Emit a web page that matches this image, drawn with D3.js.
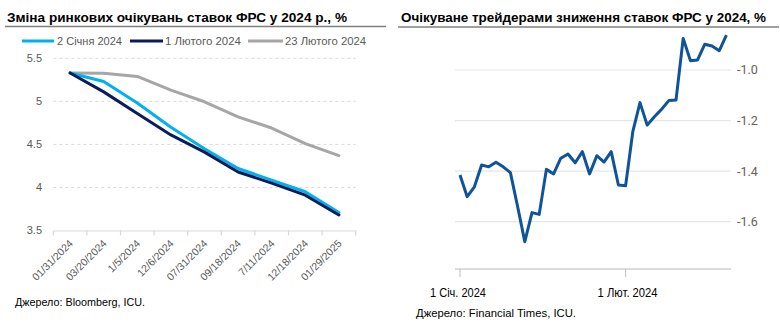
<!DOCTYPE html>
<html>
<head>
<meta charset="utf-8">
<script src="https://cdn.jsdelivr.net/npm/d3@7"></script>
<style>
html,body{margin:0;padding:0;background:#fff;}
svg{display:block;}
text{font-family:"Liberation Sans","Noto Sans",Arial,sans-serif;}
</style>
</head>
<body>
<svg id="chart" width="780" height="325"></svg>
<script>
// ---------- Left chart data ----------
const leftCategories = ["01/31/2024","03/20/2024","1/5/2024","12/6/2024","07/31/2024","09/18/2024","7/11/2024","12/18/2024","01/29/2025"];
const seriesNames = ["2 Січня 2024","1 Лютого 2024","23 Лютого 2024"];
const jan2Values  = [5.33, 5.23, 4.98, 4.70, 4.45, 4.22, 4.085, 3.95, 3.71];
const feb1Values  = [5.33, 5.11, 4.86, 4.61, 4.41, 4.18, 4.05, 3.91, 3.68];
const feb23Values = [5.33, 5.325, 5.29, 5.13, 4.995, 4.82, 4.69, 4.51, 4.37];
const leftYTicks = [3.5, 4, 4.5, 5, 5.5];

// ---------- Right chart data ----------
const rightDates = [
 "2024-01-01","2024-01-02","2024-01-03","2024-01-04","2024-01-05",
 "2024-01-08","2024-01-09","2024-01-10","2024-01-11","2024-01-12",
 "2024-01-15","2024-01-16","2024-01-17","2024-01-18","2024-01-19",
 "2024-01-22","2024-01-23","2024-01-24","2024-01-25","2024-01-26",
 "2024-01-29","2024-01-30","2024-01-31",
 "2024-02-01","2024-02-02",
 "2024-02-05","2024-02-06","2024-02-07","2024-02-08","2024-02-09",
 "2024-02-12","2024-02-13","2024-02-14","2024-02-15","2024-02-16",
 "2024-02-19","2024-02-20","2024-02-21"];
const rightValues = [
 -1.415,-1.501,-1.462,-1.376,-1.383,
 -1.365,-1.383,-1.406,-1.54,-1.679,
 -1.564,-1.571,-1.393,-1.411,-1.349,
 -1.332,-1.367,-1.323,-1.411,-1.339,
 -1.364,-1.323,-1.455,
 -1.458,-1.244,
 -1.129,-1.218,-1.185,-1.155,-1.121,
 -1.119,-0.875,-0.963,-0.960,-0.898,
 -0.905,-0.924,-0.862];
const rightYTicks = [-1.6, -1.4, -1.2, -1.0];
const rightXTickDates = ["2024-01-01","2024-02-01"];
const rightXTickLabels = ["1 Січ. 2024","1 Лют. 2024"];

const svg = d3.select("#chart");

// ================= LEFT CHART =================
const colors = ["#00b0f0","#0c1c5a","#a6a6a6"];
svg.append("text").attr("x",7).attr("y",21.5)
  .attr("font-size",13.5).attr("font-weight","bold").attr("fill","#000")
  .attr("textLength",340).attr("lengthAdjust","spacingAndGlyphs")
  .text("Зміна ринкових очікувань ставок ФРС у 2024 р., %");
svg.append("line").attr("x1",5).attr("x2",386).attr("y1",26.5).attr("y2",26.5)
  .attr("stroke","#7f7f7f").attr("stroke-width",1.5);

const lx = d3.scaleBand().domain(leftCategories).range([53.3,355.7]).padding(0);
const ly = d3.scaleLinear().domain([3.5,5.5]).range([230.5,58.3]);

// gridlines
const lg = svg.append("g");
lg.selectAll("line.grid").data(leftYTicks.filter(d=>d>3.5)).join("line")
  .attr("x1",53.3).attr("x2",355.7)
  .attr("y1",d=>ly(d)).attr("y2",d=>ly(d))
  .attr("stroke","#d9d9d9").attr("stroke-width",1).attr("stroke-dasharray","3,3");
// y labels
lg.selectAll("text.yl").data(leftYTicks).join("text")
  .attr("x",42).attr("y",d=>ly(d)).attr("dy","0.35em")
  .attr("text-anchor","end").attr("font-size",11).attr("fill","#595959")
  .text(d=>d3.format("")(d));
// x axis
const xAxisL = d3.axisBottom(lx).tickSize(0).tickFormat("");
const gxl = svg.append("g").attr("transform",`translate(0,${ly(3.5)})`).call(xAxisL);
gxl.select(".domain").attr("stroke","#d9d9d9").attr("stroke-width",1.2);
// boundary ticks
const boundaries = leftCategories.map(c=>lx(c)).concat([lx(leftCategories[leftCategories.length-1])+lx.bandwidth()]);
svg.append("g").selectAll("line").data(boundaries).join("line")
  .attr("x1",d=>d).attr("x2",d=>d).attr("y1",ly(3.5)).attr("y2",ly(3.5)+5)
  .attr("stroke","#d9d9d9").attr("stroke-width",1.2);
// x labels rotated
svg.append("g").selectAll("text").data(leftCategories).join("text")
  .attr("transform",d=>`translate(${lx(d)+lx.bandwidth()/2+1},${ly(3.5)+11}) rotate(-45)`)
  .attr("text-anchor","end").attr("dy","0.35em")
  .attr("font-size",10.5).attr("fill","#595959")
  .text(d=>d);

// lines
const lineL = d3.line().x((d,i)=>lx(leftCategories[i])+lx.bandwidth()/2).y(d=>ly(d));
const allSeries = [jan2Values, feb1Values, feb23Values];
[2,0,1].forEach(k=>{
  svg.append("path").datum(allSeries[k]).attr("d",lineL)
    .attr("fill","none").attr("stroke",colors[k]).attr("stroke-width",3)
    .attr("stroke-linejoin","round").attr("stroke-linecap","round");
});

// legend
const legendPos = [{x1:22,x2:54,tx:57,w:65},{x1:130,x2:163,tx:165,w:76},{x1:248,x2:283,tx:285,w:81}];
seriesNames.forEach((n,i)=>{
  const p = legendPos[i];
  svg.append("line").attr("x1",p.x1).attr("x2",p.x2).attr("y1",41).attr("y2",41)
    .attr("stroke",colors[i]).attr("stroke-width",3);
  svg.append("text").attr("x",p.tx).attr("y",41).attr("dy","0.35em")
    .attr("font-size",11.5).attr("fill","#595959")
    .attr("textLength",p.w).attr("lengthAdjust","spacingAndGlyphs").text(n);
});

svg.append("text").attr("x",15).attr("y",302).attr("dy","0.35em")
  .attr("font-size",11.5).attr("fill","#000")
  .attr("textLength",130).attr("lengthAdjust","spacingAndGlyphs")
  .text("Джерело: Bloomberg, ICU.");

// ================= RIGHT CHART =================
svg.append("text").attr("x",401).attr("y",21.5)
  .attr("font-size",13.5).attr("font-weight","bold").attr("fill","#000")
  .attr("textLength",365).attr("lengthAdjust","spacingAndGlyphs")
  .text("Очікуване трейдерами зниження ставок ФРС у 2024, %");
svg.append("line").attr("x1",398).attr("x2",779).attr("y1",27).attr("y2",27)
  .attr("stroke","#7f7f7f").attr("stroke-width",1.5);

const rx = d3.scalePoint().domain(rightDates).range([460,726.4]);
const ry = d3.scaleLinear().domain([-1.6,-1.0]).range([221.7,70]);
const axisY = ry(-1.787);

svg.append("g").selectAll("line").data(rightYTicks).join("line")
  .attr("x1",455).attr("x2",731).attr("y1",d=>ry(d)).attr("y2",d=>ry(d))
  .attr("stroke","#e6e6e6").attr("stroke-width",1.2);
svg.append("g").selectAll("text").data(rightYTicks).join("text")
  .attr("x",737).attr("y",d=>ry(d)).attr("dy","0.35em")
  .attr("font-size",12.5).attr("fill","#66605c")
  .style("font-family","Roboto, 'Noto Sans', sans-serif")
  .text(d=>d3.format(".1f")(d).replace("−","-"));

svg.append("line").attr("x1",455).attr("x2",731).attr("y1",axisY).attr("y2",axisY)
  .attr("stroke","#dcdcdc").attr("stroke-width",2);
svg.append("g").selectAll("line").data(rightXTickDates).join("line")
  .attr("x1",d=>rx(d)).attr("x2",d=>rx(d)).attr("y1",axisY).attr("y2",axisY+8)
  .attr("stroke","#c8c8c8").attr("stroke-width",1.2);
svg.append("g").selectAll("text").data(rightXTickDates).join("text")
  .attr("x",(d,i)=>rx(d)-2+i*4).attr("y",292.5).attr("dy","0.35em")
  .attr("text-anchor","middle").attr("font-size",12).attr("fill","#000")
  .attr("textLength",(d,i)=>i===0?56:60).attr("lengthAdjust","spacingAndGlyphs")
  .text((d,i)=>rightXTickLabels[i]);

const lineR = d3.line().x((d,i)=>rx(rightDates[i])).y(d=>ry(d));
svg.append("path").datum(rightValues).attr("d",lineR)
  .attr("fill","none").attr("stroke","#0f5499").attr("stroke-width",3)
  .attr("stroke-linejoin","round");

svg.append("text").attr("x",416).attr("y",313).attr("dy","0.35em")
  .attr("font-size",11.5).attr("fill","#000")
  .attr("textLength",160).attr("lengthAdjust","spacingAndGlyphs")
  .text("Джерело: Financial Times, ICU.");
</script>
</body>
</html>
